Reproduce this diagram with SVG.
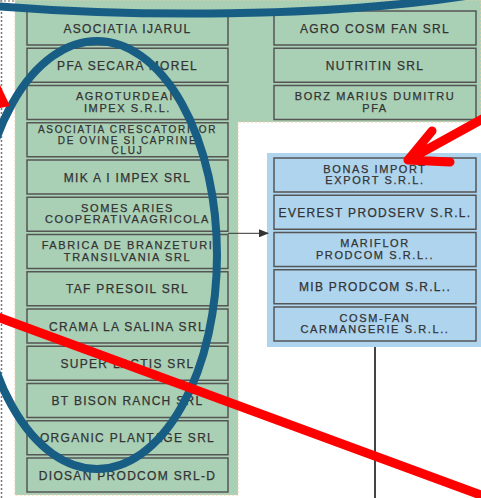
<svg xmlns="http://www.w3.org/2000/svg" width="481" height="498" viewBox="0 0 481 498">
<defs>
<style>
.bg{fill:#a9cfb5;stroke:#f2c9a3;stroke-width:1;stroke-dasharray:2 2}
.bluebg{fill:#aed4ee}
.g rect{fill:#a9cfb5;stroke:#555;stroke-width:1.5}
.b rect{fill:#aed4ee;stroke:#555;stroke-width:1.5}
text{font-family:"Liberation Sans",Arial,sans-serif;font-size:12px;fill:#333;stroke:#333;stroke-width:0.25;text-anchor:middle;letter-spacing:1.3px}
text.m{font-size:11px;letter-spacing:1.6px}
text.s{font-size:10px;letter-spacing:1.7px}
.edge{stroke:#333;stroke-width:1;fill:none}
.blue{fill:none;stroke:#185d84;stroke-width:8}
.red{fill:none;stroke:#ff0000;stroke-width:9;stroke-linecap:round;stroke-linejoin:round}
</style>
<marker id="ah" markerWidth="10" markerHeight="8" refX="9" refY="4" orient="auto" markerUnits="userSpaceOnUse">
<path d="M0,0 L10,4 L0,8 z" fill="#333"/>
</marker>
</defs>
<rect width="481" height="498" fill="#fff"/>
<line x1="1.5" y1="0" x2="1.5" y2="498" stroke="#777" stroke-width="1.5" stroke-dasharray="2 2"/>
<line x1="0" y1="1" x2="481" y2="1" stroke="#999" stroke-width="1.5" stroke-dasharray="2 2"/>
<path class="bg" d="M15,0 H481 V122 H238 V495 H15 Z"/>
<rect class="bluebg" x="267" y="153" width="216" height="194"/>

<g id="n1" class="g"><rect x="27" y="11" width="201" height="34"/><text x="127.5" y="32.5">ASOCIATIA IJARUL</text></g>
<g id="n2" class="g"><rect x="27" y="48.25" width="201" height="34"/><text x="127.5" y="69.75">PFA SECARA MOREL</text></g>
<g id="n3" class="g"><rect x="27" y="85.5" width="201" height="34"/><text class="m" x="127.5" y="100">AGROTURDEAN</text><text class="m" x="127.5" y="111.8">IMPEX S.R.L.</text></g>
<g id="n4" class="g"><rect x="27" y="122.75" width="201" height="34"/><text class="s" x="127.5" y="133.3">ASOCIATIA CRESCATORILOR</text><text class="s" x="127.5" y="143.6">DE OVINE SI CAPRINE</text><text class="s" x="127.5" y="154">CLUJ</text></g>
<g id="n5" class="g"><rect x="27" y="160" width="201" height="34"/><text x="127.5" y="181.5">MIK A I IMPEX SRL</text></g>
<g id="n6" class="g"><rect x="27" y="197.25" width="201" height="34"/><text class="m" x="127.5" y="211.5">SOMES ARIES</text><text class="m" x="127.5" y="223.3">COOPERATIVAAGRICOLA</text></g>
<g id="n7" class="g"><rect x="27" y="234.5" width="201" height="34"/><text class="m" x="127.5" y="248.8">FABRICA DE BRANZETURI</text><text class="m" x="127.5" y="260.6">TRANSILVANIA SRL</text></g>
<g id="n8" class="g"><rect x="27" y="271.75" width="201" height="34"/><text x="127.5" y="293.25">TAF PRESOIL SRL</text></g>
<g id="n9" class="g"><rect x="27" y="309" width="201" height="34"/><text x="127.5" y="330.5">CRAMA LA SALINA SRL</text></g>
<g id="n10" class="g"><rect x="27" y="346.25" width="201" height="34"/><text x="127.5" y="367.75">SUPER LACTIS SRL</text></g>
<g id="n11" class="g"><rect x="27" y="383.5" width="201" height="34"/><text x="127.5" y="405">BT BISON RANCH SRL</text></g>
<g id="n12" class="g"><rect x="27" y="420.75" width="201" height="34"/><text x="127.5" y="442.25">ORGANIC PLANTAGE SRL</text></g>
<g id="n13" class="g"><rect x="27" y="458" width="201" height="34"/><text x="127.5" y="479.5">DIOSAN PRODCOM SRL-D</text></g>

<g id="n14" class="g"><rect x="274" y="11" width="202" height="34"/><text x="375" y="32.5">AGRO COSM FAN SRL</text></g>
<g id="n15" class="g"><rect x="274" y="48.25" width="202" height="34"/><text x="375" y="69.75">NUTRITIN SRL</text></g>
<g id="n16" class="g"><rect x="274" y="85.5" width="202" height="34"/><text class="m" x="375" y="100">BORZ MARIUS DUMITRU</text><text class="m" x="375" y="111.8">PFA</text></g>

<g id="n17" class="b"><rect x="274" y="158" width="202" height="34"/><text class="m" x="375" y="172.5">BONAS IMPORT</text><text class="m" x="375" y="184.3">EXPORT S.R.L.</text></g>
<g id="n18" class="b"><rect x="274" y="195.25" width="202" height="34"/><text x="375" y="216.75">EVEREST PRODSERV S.R.L.</text></g>
<g id="n19" class="b"><rect x="274" y="232.5" width="202" height="34"/><text class="m" x="375" y="247">MARIFLOR</text><text class="m" x="375" y="258.8">PRODCOM S.R.L..</text></g>
<g id="n20" class="b"><rect x="274" y="269.75" width="202" height="34"/><text x="375" y="291.25">MIB PRODCOM S.R.L..</text></g>
<g id="n21" class="b"><rect x="274" y="307" width="202" height="34"/><text class="m" x="375" y="321.5">COSM-FAN</text><text class="m" x="375" y="333.3">CARMANGERIE S.R.L..</text></g>

<g id="connectors">
<line class="edge" x1="228" y1="233.3" x2="268" y2="233.3" marker-end="url(#ah)"/>
<line x1="375" y1="347" x2="375" y2="498" stroke="#444" stroke-width="2"/>
</g>

<g id="annotations">
<path class="blue" d="M-5,6 C120,16 330,20 490,-8"/>
<ellipse class="blue" cx="97" cy="255" rx="120" ry="214"/>
<polygon points="0,85 10,106 0,108" fill="#ff0000"/>
<path class="red" d="M486,117 L408,160 M432,131 L408,160 L450,162"/>
<line class="red" x1="-5" y1="316" x2="486" y2="497" stroke-linecap="butt"/>
</g>
</svg>
